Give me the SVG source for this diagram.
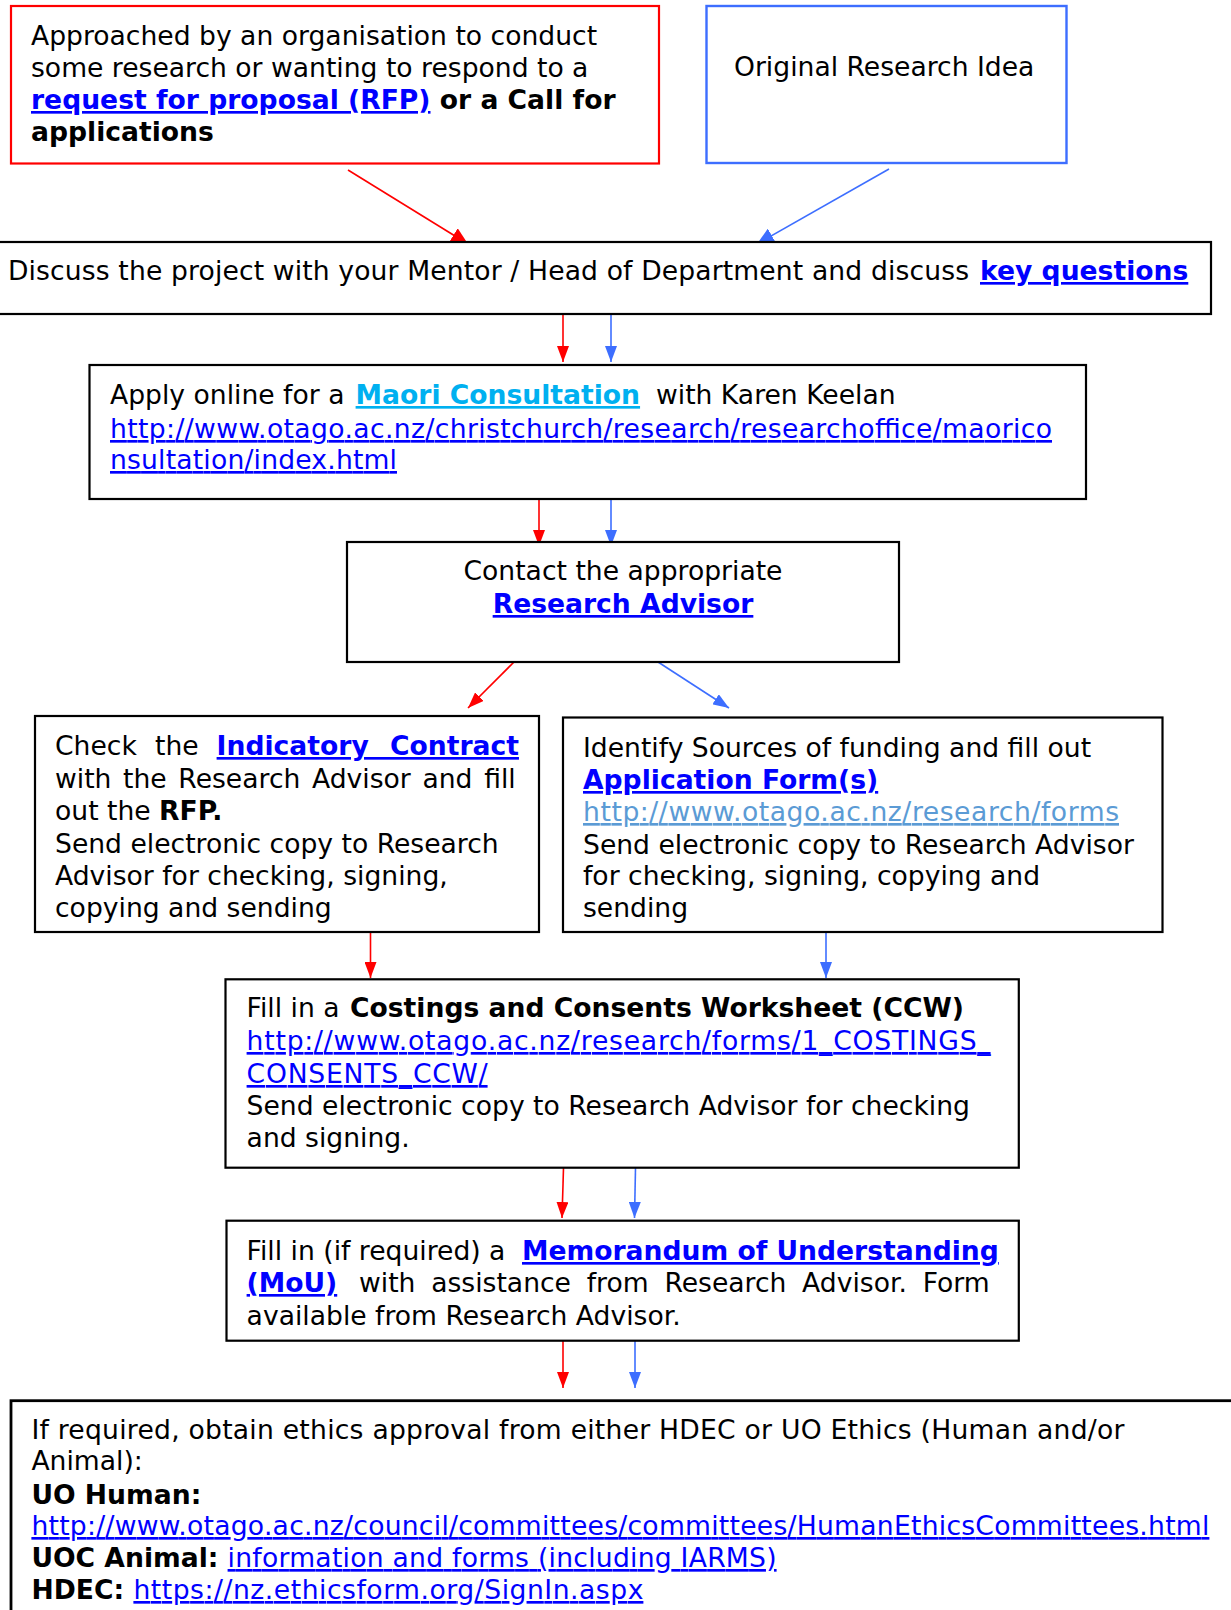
<svg xmlns="http://www.w3.org/2000/svg" width="1231" height="1610" viewBox="0 0 1231 1610">
<style>
text{font-family:"DejaVu Sans",Verdana,"Liberation Sans",sans-serif;font-size:26.6px;fill:#000}
.b{font-weight:bold}
.lnk{fill:#0000FF;text-decoration:underline}
.cy{fill:#00B0F0;text-decoration:underline;font-weight:bold}
.lb{fill:#5B9BD5;text-decoration:underline}
.box{fill:#fff;stroke:#000;stroke-width:2.2}
.rl{stroke:#FF0000;stroke-width:1.6;fill:none}
.bl{stroke:#3D6EFF;stroke-width:1.6;fill:none}
</style>
<defs>
<marker id="ar" markerUnits="userSpaceOnUse" markerWidth="16" markerHeight="12" refX="16" refY="6" orient="auto"><path d="M0,0 L16,6 L0,12 z" fill="#FF0000"/></marker>
<marker id="ab" markerUnits="userSpaceOnUse" markerWidth="16" markerHeight="12" refX="16" refY="6" orient="auto"><path d="M0,0 L16,6 L0,12 z" fill="#3D6EFF"/></marker>
<marker id="ard" markerUnits="userSpaceOnUse" markerWidth="17" markerHeight="16" refX="17" refY="8" orient="auto"><path d="M0,0 L17,8 L0,16 z" fill="#FF0000"/></marker>
<marker id="abd" markerUnits="userSpaceOnUse" markerWidth="17" markerHeight="16" refX="17" refY="8" orient="auto"><path d="M0,0 L17,8 L0,16 z" fill="#3D6EFF"/></marker>
</defs>

<g id="connectors">
<line class="rl" x1="348" y1="170" x2="468" y2="244" marker-end="url(#ard)"/>
<line class="bl" x1="889" y1="169" x2="757" y2="244" marker-end="url(#abd)"/>
<line class="rl" x1="563" y1="314" x2="563" y2="362" marker-end="url(#ar)"/>
<line class="bl" x1="611" y1="314" x2="611" y2="362" marker-end="url(#ab)"/>
<line class="rl" x1="539" y1="499" x2="539" y2="546" marker-end="url(#ar)"/>
<line class="bl" x1="611" y1="499" x2="611" y2="546" marker-end="url(#ab)"/>
<line class="rl" x1="514" y1="662" x2="468" y2="708" marker-end="url(#ar)"/>
<line class="bl" x1="658" y1="662" x2="729" y2="708" marker-end="url(#ab)"/>
<line class="rl" x1="370.5" y1="932" x2="370.5" y2="978" marker-end="url(#ar)"/>
<line class="bl" x1="826" y1="932" x2="826" y2="978" marker-end="url(#ab)"/>
<line class="rl" x1="563.5" y1="1168" x2="562" y2="1218" marker-end="url(#ar)"/>
<line class="bl" x1="635.5" y1="1168" x2="634.5" y2="1218" marker-end="url(#ab)"/>
<line class="rl" x1="563" y1="1341" x2="563" y2="1388" marker-end="url(#ar)"/>
<line class="bl" x1="635" y1="1341" x2="635" y2="1388" marker-end="url(#ab)"/>
</g>

<g id="rfp">
<rect x="11" y="6" width="648" height="157.5" fill="#fff" stroke="#FF0000" stroke-width="2.2"/>
<text x="31" y="45">Approached by an organisation to conduct</text>
<text x="31" y="77">some research or wanting to respond to a</text>
<text x="31" y="109" class="b"><tspan class="lnk">request for proposal (RFP)</tspan> or a Call for</text>
<text x="31" y="141" class="b">applications</text>
</g>

<g id="idea">
<rect x="706.5" y="6" width="360" height="157" fill="#fff" stroke="#3D6EFF" stroke-width="2.4"/>
<text x="734" y="76">Original Research Idea</text>
</g>

<g id="discuss">
<rect x="-3" y="242" width="1214" height="72" class="box"/>
<text x="8" y="280" textLength="961">Discuss the project with your Mentor / Head of Department and discuss</text>
<text x="980" y="280" class="lnk b">key questions</text>
</g>

<g id="maori">
<rect x="89.5" y="365" width="996.5" height="134" class="box"/>
<text x="110" y="404">Apply online for a <tspan class="cy" x="355.6">Maori Consultation</tspan><tspan x="656">with Karen Keelan</tspan></text>
<text x="110" y="438" class="lnk" textLength="942">http://www.otago.ac.nz/christchurch/research/researchoffice/maorico</text>
<text x="110" y="469" class="lnk" textLength="287">nsultation/index.html</text>
</g>

<g id="advisor">
<rect x="347" y="542" width="552" height="120" class="box"/>
<text x="623" y="580" text-anchor="middle">Contact the appropriate</text>
<text x="623" y="613" text-anchor="middle" class="lnk b">Research Advisor</text>
</g>

<g id="contract">
<rect x="35" y="716" width="504" height="216" class="box"/>
<text y="755"><tspan x="55">Check</tspan><tspan x="155">the</tspan><tspan x="216.6" class="lnk b" word-spacing="12">Indicatory Contract</tspan></text>
<text x="55" y="788" word-spacing="3.2">with the Research Advisor and fill</text>
<text x="55" y="820">out the <tspan class="b">RFP.</tspan></text>
<text x="55" y="853">Send electronic copy to Research</text>
<text x="55" y="885">Advisor for checking, signing,</text>
<text x="55" y="917">copying and sending</text>
</g>

<g id="funding">
<rect x="563" y="717.5" width="599.5" height="214.5" class="box"/>
<text x="583" y="757">Identify Sources of funding and fill out</text>
<text x="583" y="789" class="lnk b">Application Form(s)</text>
<text x="583" y="821" class="lb" textLength="536">http://www.otago.ac.nz/research/forms</text>
<text x="583" y="854">Send electronic copy to Research Advisor</text>
<text x="583" y="885">for checking, signing, copying and</text>
<text x="583" y="917">sending</text>
</g>

<g id="ccw">
<rect x="225.5" y="979.3" width="793.3" height="188.4" class="box"/>
<text x="246.6" y="1017">Fill in a <tspan class="b" x="350">Costings and Consents Worksheet (CCW)</tspan></text>
<text x="246.6" y="1050" class="lnk" textLength="744">http://www.otago.ac.nz/research/forms/1_COSTINGS_</text>
<text x="246.6" y="1083" class="lnk" textLength="241">CONSENTS_CCW/</text>
<text x="246.6" y="1115">Send electronic copy to Research Advisor for checking</text>
<text x="246.6" y="1147">and signing.</text>
</g>

<g id="mou">
<rect x="226.5" y="1220.7" width="792.3" height="120" class="box"/>
<text x="246.6" y="1260">Fill in (if required) a <tspan class="lnk b" x="522">Memorandum of Understanding</tspan></text>
<text y="1292"><tspan x="246.6" class="lnk b">(MoU)</tspan><tspan x="359" word-spacing="7.3">with assistance from Research Advisor. Form</tspan></text>
<text x="246.6" y="1325">available from Research Advisor.</text>
</g>

<g id="ethics">
<rect x="11" y="1400.7" width="1240" height="240" fill="#fff" stroke="#000" stroke-width="2.8"/>
<text x="31.4" y="1439" textLength="1093">If required, obtain ethics approval from either HDEC or UO Ethics (Human and/or</text>
<text x="31.4" y="1470">Animal):</text>
<text x="31.4" y="1504" class="b">UO Human:</text>
<text x="31.4" y="1535" class="lnk" textLength="1178">http://www.otago.ac.nz/council/committees/committees/HumanEthicsCommittees.html</text>
<text x="31.4" y="1567"><tspan class="b">UOC Animal:</tspan></text>
<text x="227.6" y="1567" class="lnk" textLength="549">information and forms (including IARMS)</text>
<text x="31.4" y="1599"><tspan class="b">HDEC:</tspan></text>
<text x="133.4" y="1599" class="lnk" textLength="510">https://nz.ethicsform.org/SignIn.aspx</text>
</g>
</svg>
